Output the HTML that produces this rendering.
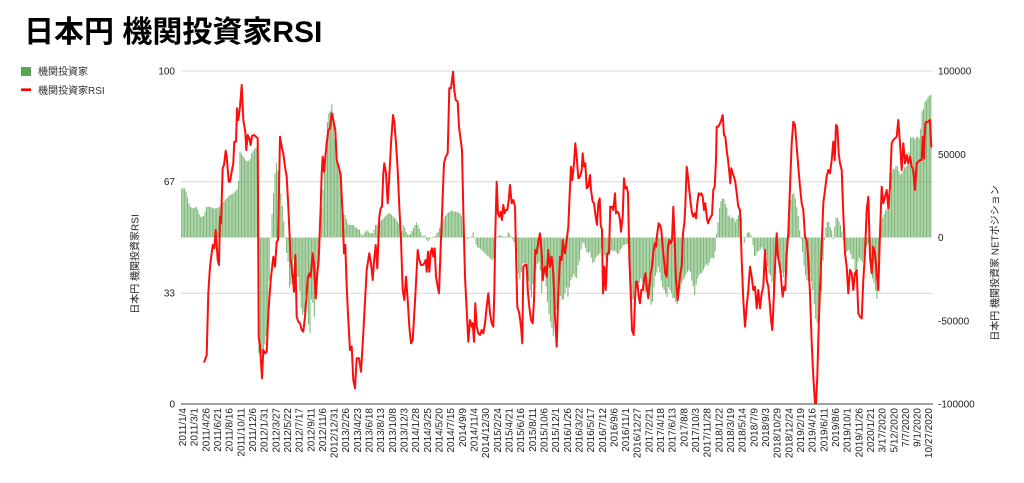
<!DOCTYPE html>
<html>
<head>
<meta charset="utf-8">
<style>
html,body{margin:0;padding:0;background:#fff;}
svg{display:block;}
text{font-family:"Liberation Sans","Noto Sans CJK JP",sans-serif;}
.ax{font-size:10px;fill:#222;}
.xl{font-size:10px;fill:#222;}
</style>
</head>
<body>
<svg id="c" width="1024" height="483" viewBox="0 0 1024 483" xmlns="http://www.w3.org/2000/svg">
<rect width="1024" height="483" fill="#fff"/>
<text x="24" y="42" style="font-size:30px;font-weight:bold;fill:#000;">日本円 機関投資家RSI</text>
<!-- legend -->
<rect x="21" y="67" width="10" height="9" fill="#5aa553"/>
<text x="38" y="75" style="font-size:10px;fill:#333;">機関投資家</text>
<line x1="21" y1="89.7" x2="31" y2="89.7" stroke="#ff0000" stroke-width="2.6"/>
<text x="38" y="94" style="font-size:10px;fill:#333;">機関投資家RSI</text>
<!-- grid -->
<g stroke="#d9d9d9" stroke-width="1">
<line x1="181" y1="71" x2="933" y2="71"/>
<line x1="181" y1="181.7" x2="933" y2="181.7"/>
<line x1="181" y1="293.3" x2="933" y2="293.3"/>
</g>
<g id="bars"></g>
<polyline id="rsi" fill="none" stroke="#ff0d0d" stroke-width="2" stroke-linejoin="round" stroke-linecap="round" points=""/>
<line x1="181" y1="404" x2="933" y2="404" stroke="#444" stroke-width="1"/>
<!-- left axis labels -->
<g class="ax" text-anchor="end">
<text x="175" y="74.5">100</text>
<text x="175" y="185">67</text>
<text x="175" y="296.5">33</text>
<text x="175" y="407.5">0</text>
</g>
<!-- right axis labels -->
<g class="ax" text-anchor="start">
<text x="938" y="74.5">100000</text>
<text x="938" y="157.8">50000</text>
<text x="938" y="241">0</text>
<text x="938" y="324.3">-50000</text>
<text x="938" y="407.5">-100000</text>
</g>
<text class="ax" text-anchor="middle" transform="translate(138.5,264) rotate(-90)">日本円 機関投資家RSI</text>
<text class="ax" text-anchor="middle" transform="translate(998.5,263) rotate(-90)">日本円 機関投資家 NETポジション</text>
<!-- x labels -->
<g class="xl" text-anchor="end">
<text transform="translate(186,408) rotate(-90)">2011/1/4</text>
<text transform="translate(197.7,408) rotate(-90)">2011/3/1</text>
<text transform="translate(209.3,408) rotate(-90)">2011/4/26</text>
<text transform="translate(221,408) rotate(-90)">2011/6/21</text>
<text transform="translate(232.6,408) rotate(-90)">2011/8/16</text>
<text transform="translate(244.3,408) rotate(-90)">2011/10/11</text>
<text transform="translate(256,408) rotate(-90)">2011/12/6</text>
<text transform="translate(267.6,408) rotate(-90)">2012/1/31</text>
<text transform="translate(279.3,408) rotate(-90)">2012/3/27</text>
<text transform="translate(290.9,408) rotate(-90)">2012/5/22</text>
<text transform="translate(302.6,408) rotate(-90)">2012/7/17</text>
<text transform="translate(314.3,408) rotate(-90)">2012/9/11</text>
<text transform="translate(325.9,408) rotate(-90)">2012/11/6</text>
<text transform="translate(337.6,408) rotate(-90)">2012/12/31</text>
<text transform="translate(349.2,408) rotate(-90)">2013/2/26</text>
<text transform="translate(360.9,408) rotate(-90)">2013/4/23</text>
<text transform="translate(372.6,408) rotate(-90)">2013/6/18</text>
<text transform="translate(384.2,408) rotate(-90)">2013/8/13</text>
<text transform="translate(395.9,408) rotate(-90)">2013/10/8</text>
<text transform="translate(407.5,408) rotate(-90)">2013/12/3</text>
<text transform="translate(419.2,408) rotate(-90)">2014/1/28</text>
<text transform="translate(430.9,408) rotate(-90)">2014/3/25</text>
<text transform="translate(442.5,408) rotate(-90)">2014/5/20</text>
<text transform="translate(454.2,408) rotate(-90)">2014/7/15</text>
<text transform="translate(465.8,408) rotate(-90)">2014/9/9</text>
<text transform="translate(477.5,408) rotate(-90)">2014/11/4</text>
<text transform="translate(489.2,408) rotate(-90)">2014/12/30</text>
<text transform="translate(500.8,408) rotate(-90)">2015/2/24</text>
<text transform="translate(512.5,408) rotate(-90)">2015/4/21</text>
<text transform="translate(524.1,408) rotate(-90)">2015/6/16</text>
<text transform="translate(535.8,408) rotate(-90)">2015/8/11</text>
<text transform="translate(547.5,408) rotate(-90)">2015/10/6</text>
<text transform="translate(559.1,408) rotate(-90)">2015/12/1</text>
<text transform="translate(570.8,408) rotate(-90)">2016/1/26</text>
<text transform="translate(582.4,408) rotate(-90)">2016/3/22</text>
<text transform="translate(594.1,408) rotate(-90)">2016/5/17</text>
<text transform="translate(605.8,408) rotate(-90)">2016/7/12</text>
<text transform="translate(617.4,408) rotate(-90)">2016/9/6</text>
<text transform="translate(629.1,408) rotate(-90)">2016/11/1</text>
<text transform="translate(640.7,408) rotate(-90)">2016/12/27</text>
<text transform="translate(652.4,408) rotate(-90)">2017/2/21</text>
<text transform="translate(664.1,408) rotate(-90)">2017/4/18</text>
<text transform="translate(675.7,408) rotate(-90)">2017/6/13</text>
<text transform="translate(687.4,408) rotate(-90)">2017/8/8</text>
<text transform="translate(699,408) rotate(-90)">2017/10/3</text>
<text transform="translate(710.7,408) rotate(-90)">2017/11/28</text>
<text transform="translate(722.4,408) rotate(-90)">2018/1/22</text>
<text transform="translate(734,408) rotate(-90)">2018/3/19</text>
<text transform="translate(745.7,408) rotate(-90)">2018/5/14</text>
<text transform="translate(757.3,408) rotate(-90)">2018/7/9</text>
<text transform="translate(769,408) rotate(-90)">2018/9/3</text>
<text transform="translate(780.7,408) rotate(-90)">2018/10/29</text>
<text transform="translate(792.3,408) rotate(-90)">2018/12/24</text>
<text transform="translate(804,408) rotate(-90)">2019/2/19</text>
<text transform="translate(815.6,408) rotate(-90)">2019/4/16</text>
<text transform="translate(827.3,408) rotate(-90)">2019/6/11</text>
<text transform="translate(839,408) rotate(-90)">2019/8/6</text>
<text transform="translate(850.6,408) rotate(-90)">2019/10/1</text>
<text transform="translate(862.3,408) rotate(-90)">2019/11/26</text>
<text transform="translate(873.9,408) rotate(-90)">2020/1/21</text>
<text transform="translate(885.6,408) rotate(-90)">3/17/2020</text>
<text transform="translate(897.3,408) rotate(-90)">5/12/2020</text>
<text transform="translate(908.9,408) rotate(-90)">7/7/2020</text>
<text transform="translate(920.6,408) rotate(-90)">9/1/2020</text>
<text transform="translate(932.2,408) rotate(-90)">10/27/2020</text>
</g>
</svg>
<script>
(function(){
function conv(x0,a){var o=[];for(var i=0;i<a.length;i+=2)o.push([x0+a[i]/3,60+a[i+1]/3]);return o;}
var L4=[103,905,110,885,115,700,120,620,128,555,133,565,137,510,143,600,147,615,150,470,153,490,158,325,162,315,167,272,170,290,176,365,180,365,186,330,190,310,193,245,198,245,201,145,205,180,210,140,215,75,220,180,226,215,229,270,233,225,238,235,242,255,246,228,252,225,258,230,263,235,266,830,270,860,276,955,280,870,285,880,290,875,295,760,302,660,310,590,315,620,320,545,324,540,330,230,336,265,340,280,345,320,350,350,355,440,362,600,368,650,372,695,376,585,380,770,385,785,390,790,395,810,400,815,405,770,410,700,413,655,418,640,422,650,428,580,432,610,437,715,442,640,446,600,452,440,455,340,458,290,462,335,465,300,470,250,475,210,480,205,485,160,490,180,496,210,500,300,506,320,512,345,518,470,522,580,526,555,530,680,535,780,540,870,545,860,550,960,555,985,560,895,567,895,573,935];
var L5=[10,820,20,630,28,580,33,610,38,660,42,605,47,555,52,625,58,470,62,445,66,440,70,340,73,310,78,340,83,430,88,350,93,250,99,165,103,185,108,250,113,330,118,440,123,540,128,690,133,720,138,650,143,720,148,800,153,850,158,840,163,760,168,670,173,570,178,600,183,615,188,615,193,610,197,600,200,635,204,575,208,635,212,575,216,565,220,590,224,565,228,650,233,680,237,700,242,560,247,440,252,310,257,290,263,280,268,85,273,85,279,35,283,90,287,120,293,125,297,200,302,240,306,270,310,450,315,650,320,750,325,845,330,780,335,800,338,790,342,845,346,730,350,800,355,820,360,825,365,810,370,820,375,790,380,740,385,700,390,760,395,790,400,800,403,700,406,520,410,365,414,460,418,470,422,455,426,480,430,435,434,460,438,450,442,450,446,420,450,375,455,430,460,420,465,440,468,580,472,740,478,760,483,800,487,850,490,620,495,615,500,615,503,690,508,740,513,780,518,790,522,720,526,570,530,580,535,545,540,520,545,580,548,660,552,630,556,620,560,650,565,570];
var L6=[0,620,5,590,10,640,15,770,20,860,25,700,30,590,35,600,38,540,42,570,45,580,50,540,55,500,60,380,63,320,67,360,72,310,76,250,80,290,85,355,90,350,95,330,98,280,102,320,106,310,110,385,115,380,120,345,123,390,128,425,132,430,137,470,141,495,145,430,149,415,152,495,156,510,159,700,163,620,167,690,172,580,177,580,181,440,186,440,190,450,195,400,198,460,202,455,206,460,210,480,213,515,218,470,222,355,226,385,230,380,234,400,238,590,242,700,246,810,251,825,255,720,258,665,262,665,266,710,270,730,274,690,278,690,282,660,286,640,290,680,295,715,298,680,302,640,306,620,310,580,314,550,318,560,322,520,326,490,330,495,334,510,338,560,342,600,346,640,350,650,354,560,358,540,362,550,366,540,370,440,374,540,378,660,383,720,387,680,391,640,395,620,399,520,403,490,406,440,410,320,414,350,418,390,422,430,426,460,430,470,434,460,438,475,442,430,446,400,450,405,454,400,458,410,462,450,466,430,470,470,474,490,478,480,482,470,486,465,490,390,494,380,498,300,500,200,505,200,510,190,514,180,518,165,522,225,526,230,530,270,534,300,538,335,541,370,544,325,548,340,552,350,556,365,560,400,565,440];
var L7=[0,450,5,600,10,720,15,800,20,740,25,690,30,620,35,650,40,690,45,680,50,745,55,690,60,745,65,700,70,680,75,570,80,660,85,680,90,740,93,780,97,810,102,700,106,600,110,520,114,590,118,610,122,640,126,690,128,710,132,680,136,690,140,580,145,520,150,380,155,250,160,185,165,195,170,260,175,320,180,380,185,430,190,450,195,530,200,540,205,600,210,700,215,850,220,950,225,1030,228,1030,232,950,236,800,240,680,245,560,250,430,255,390,260,350,265,330,270,340,275,300,280,245,284,300,288,195,292,200,296,280,300,310,305,330,310,460,315,580,320,620,325,700,330,630,335,640,340,690,345,640,350,630,355,760,360,770,365,775,370,660,375,580,380,450,385,410,390,590,395,640,400,560,405,580,410,640,415,690,420,520,425,380,430,430,435,410,440,390,445,445,450,380,455,250,460,240,465,235,470,230,475,180,480,250,485,330,490,250,495,310,500,285,505,310,510,290,515,320,520,330,525,390,530,310,535,305,540,300,545,300,548,230,552,295,556,190,560,185,565,185,570,180,574,260];
var line=[].concat(conv(170,L4),conv(360,L5),conv(550,L6),conv(740,L7));
document.getElementById('rsi').setAttribute('points',line.map(function(p){return p[0].toFixed(1)+','+p[1].toFixed(1);}).join(' '));

var B4=[35,385,45,385,50,400,55,425,60,440,70,445,80,440,85,455,90,470,100,470,110,440,120,440,130,445,140,445,150,440,160,425,170,415,180,405,190,400,200,390,205,375,210,275,220,290,230,305,240,300,245,280,255,265,262,260,265,890,270,860,275,880,280,880,285,850,290,820,295,760,300,560,305,490,308,420,313,380,317,300,322,320,327,360,330,380,335,420,340,470,345,530,350,580,355,610,360,710,365,650,370,600,375,600,380,650,385,650,390,700,395,760,400,770,405,740,410,640,415,790,420,820,425,700,430,740,435,790,440,640,445,560,450,520,455,440,460,380,465,300,470,210,475,160,480,160,485,130,490,160,495,250,500,300,505,320,510,310,515,400,520,460,525,465,530,480,535,495,540,495,550,495,560,505,570,510,575,530];
var B5=[20,510,30,520,40,520,45,495,50,495,55,490,60,485,65,480,70,475,75,470,80,465,85,460,90,460,95,465,100,470,105,475,110,480,115,490,120,500,125,515,130,495,135,505,140,520,145,525,150,525,155,515,160,505,165,495,170,485,175,500,180,510,185,525,190,530,195,525,200,540,205,545,210,535,215,530,220,530,225,530,230,520,235,515,240,500,245,490,250,480,255,470,260,462,265,458,270,455,275,450,280,455,285,455,290,455,295,458,300,460,305,470,310,515,315,525,320,540,325,535,330,535,335,530,340,515,345,540,350,560,360,565,370,575,380,585,390,595,400,605,405,540,410,530,420,525,430,530,440,530,445,515,450,525,460,540,470,570,475,640,480,660,485,630,490,600,495,620,500,640,505,660,510,690,515,715,520,660,525,640,530,620,535,600,540,620,545,700,550,660,555,640,560,700,565,750];
var B6=[0,780,5,800,10,830,15,780,20,740,25,720,30,700,35,720,40,720,45,700,50,680,55,720,60,660,65,660,70,640,75,650,80,655,85,610,90,600,95,550,100,545,105,560,110,575,115,580,120,575,125,600,130,615,135,595,140,590,145,585,150,580,155,560,160,575,165,590,170,600,175,590,180,575,185,570,190,575,195,570,200,580,205,585,210,570,215,565,220,555,225,555,230,550,235,555,240,600,245,720,250,720,255,700,260,680,265,680,270,660,275,650,280,690,285,700,290,680,295,690,300,710,305,750,310,700,315,650,320,640,325,620,330,640,335,670,340,690,345,690,350,720,355,680,360,690,365,700,370,720,375,710,380,745,385,710,390,690,395,670,400,660,405,650,410,640,415,630,420,630,425,660,430,680,435,710,440,660,445,650,450,640,455,640,460,630,465,620,470,610,475,620,480,600,485,590,490,600,495,580,500,520,505,480,510,430,515,420,520,410,525,430,530,440,535,470,540,465,545,480,550,465,555,490,560,480,565,465];
var B7=[0,470,5,475,10,560,15,540,20,520,25,515,30,520,35,530,40,560,45,600,50,575,55,575,60,570,65,560,70,570,75,575,80,590,85,640,90,640,95,660,100,690,105,620,110,580,115,600,120,610,125,630,130,655,135,640,140,580,145,520,150,430,155,410,160,395,165,410,170,440,175,470,180,520,185,545,190,600,195,640,200,660,205,665,210,640,215,670,220,700,225,760,230,800,235,760,240,740,245,690,250,580,255,520,260,490,265,480,270,500,275,510,280,540,285,490,290,465,295,480,300,490,305,510,310,540,315,560,320,580,325,570,330,570,335,600,340,590,345,630,350,625,355,600,360,590,365,610,370,600,375,580,380,560,385,550,390,580,395,650,400,660,405,680,410,720,415,700,420,500,425,475,430,470,435,455,440,445,445,450,450,410,455,330,460,325,465,330,470,310,475,330,480,345,485,340,490,330,495,320,500,320,505,310,510,230,515,235,520,230,525,240,530,230,535,230,540,240,545,155,550,150,555,125,560,120,565,110,570,105,575,105];
var env=[].concat(conv(170,B4),conv(360,B5),conv(550,B6),conv(740,B7));
env.sort(function(a,b){return a[0]-b[0];});
function interp(x){
  if(x<=env[0][0])return env[0][1];
  for(var i=1;i<env.length;i++){
    if(env[i][0]>=x){var a=env[i-1],b=env[i];var t=(x-a[0])/((b[0]-a[0])||1);return a[1]+t*(b[1]-a[1]);}
  }
  return env[env.length-1][1];
}
var y0=237.5, s='';
for(var x=181.7;x<=932.2;x+=1.4575){
  var y=interp(x);
  var top=Math.min(y,y0),h=Math.abs(y-y0);
  if(h<0.3)h=0.3;
  s+='<rect x="'+(x-0.55).toFixed(2)+'" y="'+top.toFixed(2)+'" width="1.1" height="'+h.toFixed(2)+'"/>';
}
var g=document.getElementById('bars');
g.setAttribute('fill','#5aa553');
g.setAttribute('fill-opacity','0.78');
g.innerHTML=s;
})();
</script>
</body>
</html>
